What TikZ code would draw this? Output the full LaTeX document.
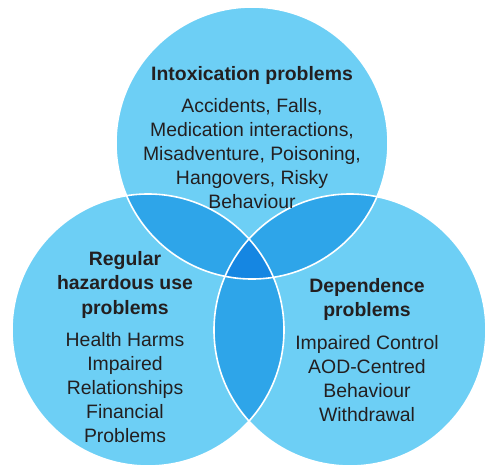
\documentclass[tikz,border=0pt]{standalone}
\usepackage{fontspec}
\setmainfont{Liberation Sans}
\usetikzlibrary{positioning}

\definecolor{vennlight}{RGB}{109,207,245}
\definecolor{vennmid}{RGB}{46,165,233}
\definecolor{venndark}{RGB}{21,134,226}
\definecolor{venntext}{RGB}{35,31,32}

\begin{document}
\begin{tikzpicture}[x=1pt,y=1pt,
  set/.style={circle, minimum size=272pt, inner sep=0pt, fill=vennlight},
  heading/.style={font=\fontsize{19.4}{24.5}\selectfont\bfseries, text=venntext, align=center, inner sep=0pt},
  items/.style={font=\fontsize{19.4}{24}\selectfont, text=venntext, align=center, inner sep=0pt},
  node distance=14pt]
\def\r{136}
\useasboundingbox (0,0) rectangle (486,472);
% the three sets
\node[set] (intox) at (252,329) {};
\node[set] (hazard) at (148,142) {};
\node[set] (depend) at (350,142) {};
% overlaps of two sets
\begin{scope}
\clip (intox.center) circle[radius=\r];
\fill[vennmid] (hazard.center) circle[radius=\r];
\fill[vennmid] (depend.center) circle[radius=\r];
\end{scope}
\begin{scope}
\clip (hazard.center) circle[radius=\r];
\fill[vennmid] (depend.center) circle[radius=\r];
\end{scope}
% overlap of all three
\begin{scope}
\clip (intox.center) circle[radius=\r];
\clip (hazard.center) circle[radius=\r];
\fill[venndark] (depend.center) circle[radius=\r];
\end{scope}
\foreach \s in {intox,hazard,depend}
  \draw[white, line width=1.6pt] (\s.center) circle[radius=\r];

% labels
\node[heading, anchor=north] (intoxhead) at (252,406) {Intoxication problems};
\node[items, below=of intoxhead] (intoxlist) {Accidents, Falls,\\Medication interactions,\\Misadventure, Poisoning,\\Hangovers, Risky\\Behaviour};
\node[heading, anchor=north] (hazardhead) at (125,221) {Regular\\hazardous use\\problems};
\node[items, below=of hazardhead] (hazardlist) {Health Harms\\Impaired\\Relationships\\Financial\\Problems};
\node[heading, anchor=north] (dependhead) at (367,194) {Dependence\\problems};
\node[items, below=of dependhead] (dependlist) {Impaired Control\\AOD-Centred\\Behaviour\\Withdrawal};
\end{tikzpicture}
\end{document}
